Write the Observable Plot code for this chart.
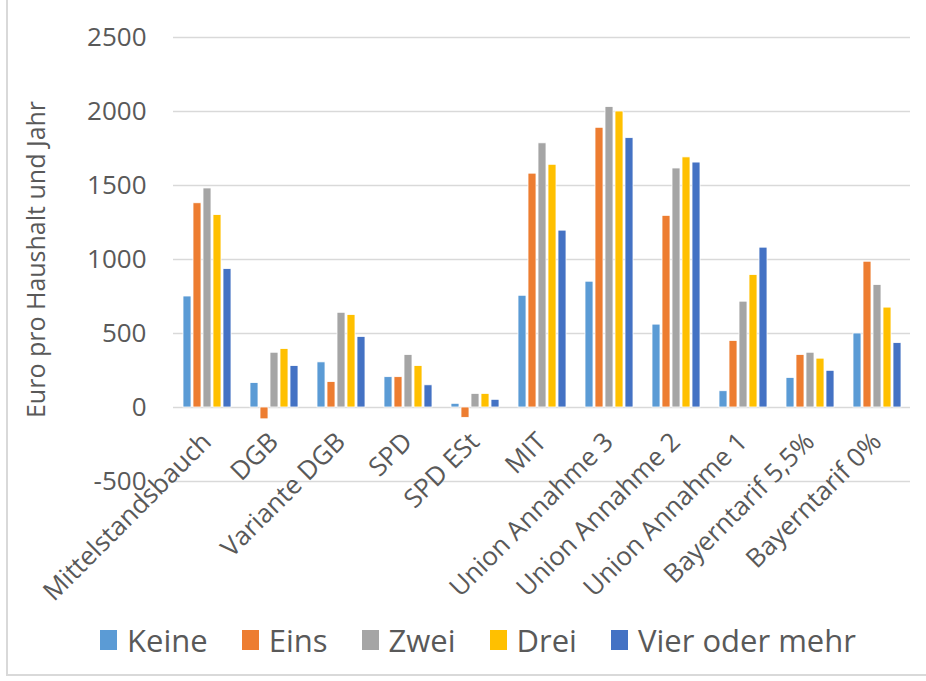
<!DOCTYPE html>
<html>
<head>
<meta charset="utf-8">
<script src="https://cdn.jsdelivr.net/npm/d3@7"></script>
<script src="https://cdn.jsdelivr.net/npm/@observablehq/plot@0.6"></script>
<style>
  body { margin: 0; background: #fff; font-family: "Open Sans", sans-serif; }
  #wrap { position: relative; width: 926px; height: 681px; overflow: hidden; }
  #frame { position: absolute; left: 6px; top: -4px; width: 940px; height: 680px; border-left: 2px solid #d9d9d9; border-bottom: 2px solid #d9d9d9; box-sizing: border-box; pointer-events: none; }
  #legend { display: flex; justify-content: center; align-items: center; height: 44px; margin-top: 3px; padding-left: 30px; font-size: 31px; color: #595959; }
  .item { display: flex; align-items: center; margin-right: 34px; }
  .item:last-child { margin-right: 0; }
  .sw { width: 17px; height: 20px; margin-right: 10px; }
</style>
</head>
<body>
<div id="wrap">
  <div id="chart"></div>
  <div id="legend"></div>
  <div id="frame"></div>
</div>
<script>
const categories = ["Mittelstandsbauch", "DGB", "Variante DGB", "SPD", "SPD ESt", "MIT", "Union Annahme 3", "Union Annahme 2", "Union Annahme 1", "Bayerntarif 5,5%", "Bayerntarif 0%"];
const seriesNames = ["Keine", "Eins", "Zwei", "Drei", "Vier oder mehr"];
const keine = [750, 165, 305, 205, 25, 755, 850, 560, 110, 200, 500];
const eins  = [1380, -80, 172, 205, -70, 1580, 1890, 1295, 450, 355, 985];
const zwei  = [1480, 370, 640, 355, 92, 1785, 2030, 1615, 715, 370, 828];
const drei  = [1300, 395, 625, 280, 92, 1640, 2000, 1690, 895, 330, 675];
const vier  = [935, 280, 477, 150, 52, 1195, 1820, 1655, 1080, 248, 435];
const yTicks = [-500, 0, 500, 1000, 1500, 2000, 2500];
const colors = ["#5B9BD5", "#ED7D31", "#A5A5A5", "#FFC000", "#4472C4"];
const yLabel = "Euro pro Haushalt und Jahr";

const seriesValues = [keine, eins, zwei, drei, vier];
const rows = [];
categories.forEach((c, i) => {
  seriesNames.forEach((s, j) => rows.push({cat: c, series: s, value: seriesValues[j][i]}));
});

const chart = Plot.plot({
  width: 926,
  height: 615,
  marginLeft: 172,
  marginRight: 16,
  marginTop: 37,
  marginBottom: 134,
  style: {fontFamily: "'Open Sans', sans-serif", color: "#595959", background: "transparent"},
  fx: {domain: categories, padding: 0, axis: null, label: null},
  x: {domain: seriesNames, paddingInner: 0.2, paddingOuter: 0.85, axis: null, label: null},
  y: {domain: [-500, 2500], label: null},
  color: {domain: seriesNames, range: colors},
  marks: [
    Plot.gridY(yTicks, {stroke: "#d9d9d9", strokeOpacity: 1, strokeWidth: 1.5}),
    Plot.barY(rows, {fx: "cat", x: "series", y: "value", fill: "series", stroke: "white", strokeWidth: 0.8}),
    Plot.axisY(yTicks, {tickSize: 0, tickPadding: 27, fontSize: 26, label: null, tickFormat: d => String(d)}),
    Plot.text(categories, {fx: d => d, y: () => 0, text: d => d, rotate: -45, textAnchor: "end", lineAnchor: "middle", dy: 30, dx: 0, fontSize: 26}),
    Plot.text([categories[0]], {fx: d => d, text: () => yLabel, frameAnchor: "left", textAnchor: "middle", rotate: -90, dx: -137, fontSize: 25})
  ]
});
document.getElementById("chart").appendChild(chart);

const legend = document.getElementById("legend");
seriesNames.forEach((s, j) => {
  const it = document.createElement("div");
  it.className = "item";
  const sw = document.createElement("div");
  sw.className = "sw";
  sw.style.background = colors[j];
  const t = document.createElement("span");
  t.textContent = s;
  it.appendChild(sw);
  it.appendChild(t);
  legend.appendChild(it);
});
</script>
</body>
</html>
